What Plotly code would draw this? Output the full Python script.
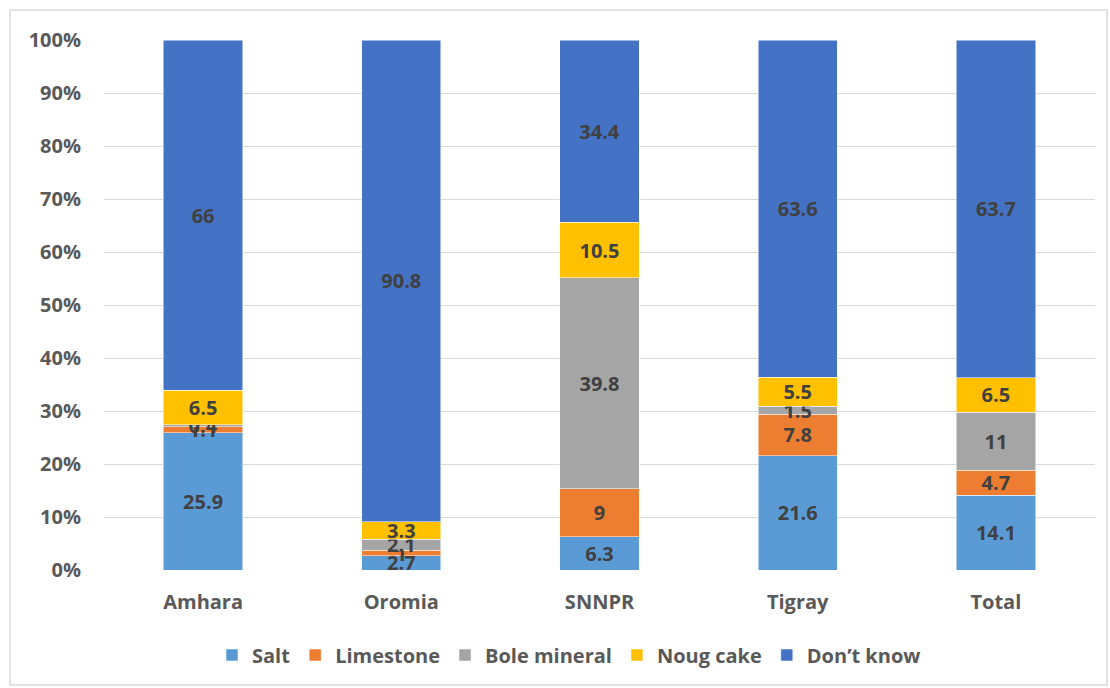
import plotly.graph_objects as go

categories = ["Amhara", "Oromia", "SNNPR", "Tigray", "Total"]
salt = [25.9, 2.7, 6.3, 21.6, 14.1]
limestone = [1.1, 1, 9, 7.8, 4.7]
bole = [0.4, 2.1, 39.8, 1.5, 11]
noug = [6.5, 3.3, 10.5, 5.5, 6.5]
dont_know = [66, 90.8, 34.4, 63.6, 63.7]

series = [
    ("Salt", salt, "#5B9BD5"),
    ("Limestone", limestone, "#ED7D31"),
    ("Bole mineral", bole, "#A5A5A5"),
    ("Noug cake", noug, "#FFC000"),
    ("Don\u2019t know", dont_know, "#4472C4"),
]

font_family = "Open Sans, Noto Sans, sans-serif"
FS = 20

fig = go.Figure()
for name, vals, color in series:
    fig.add_trace(go.Bar(
        x=categories, y=vals, name=name,
        marker=dict(color=color, line=dict(color="white", width=0.5)),
        text=[str(v) for v in vals],
        texttemplate="%{text}",
        textposition="inside",
        insidetextanchor="middle",
        textangle=0,
        textfont=dict(family=font_family, size=FS, color="#404040", weight="bold"),
        hoverinfo="skip",
    ))

L, R, T, B = 104, 15, 40, 118
W, H = 1110, 688
pw, ph = W - L - R, H - T - B

def px(x):
    return (x - L) / pw

def py(y):
    return (H - B - y) / ph

fig.update_layout(
    barmode="stack",
    barnorm="percent",
    bargap=0.6,
    width=W, height=H,
    margin=dict(l=L, r=R, t=T, b=B),
    paper_bgcolor="white",
    plot_bgcolor="white",
    uniformtext=dict(minsize=FS, mode="show"),
    font=dict(family=font_family, color="#595959"),
    legend=dict(
        orientation="h", x=px(569), xanchor="center", y=py(655), yanchor="middle",
        font=dict(family=font_family, size=FS, color="#595959", weight="bold"),
        traceorder="normal", itemwidth=30, itemclick=False,
    ),
    xaxis=dict(
        showgrid=False, showline=False, ticks="",
        tickfont=dict(family=font_family, size=FS, color="#595959", weight="bold"),
        ticklabelstandoff=18,
        fixedrange=True,
    ),
    yaxis=dict(
        range=[0, 100], dtick=10, ticksuffix="%",
        showgrid=True, gridcolor="#D9D9D9", gridwidth=1,
        zeroline=False, showline=False, ticks="",
        tickfont=dict(family=font_family, size=FS, color="#595959", weight="bold"),
        ticklabelstandoff=22,
        fixedrange=True,
    ),
    shapes=[dict(
        type="rect", xref="paper", yref="paper",
        x0=px(10), x1=px(1107), y0=py(685), y1=py(10),
        line=dict(color="#D9D9D9", width=1.5), fillcolor="rgba(0,0,0,0)", layer="below",
    )],
)

fig.write_html("out.html")
